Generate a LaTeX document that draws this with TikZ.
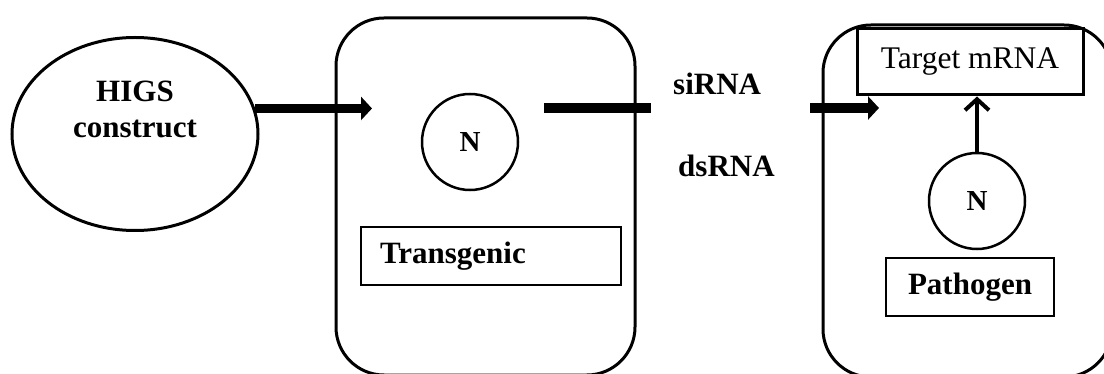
\documentclass[tikz,border=0pt]{standalone}
\usepackage{fontspec}
\setmainfont{Liberation Serif}
\usetikzlibrary{shapes.geometric,arrows.meta}

\tikzset{
  big/.style={font=\fontsize{31.5}{36}\selectfont},
  bigbf/.style={font=\fontsize{31}{36}\selectfont\bfseries},
  nucfont/.style={font=\fontsize{29}{32}\selectfont\bfseries},
  cell/.style={draw, line width=3pt, rounded corners=48pt, inner sep=0pt},
  nucleus/.style={draw, circle, line width=2.5pt, minimum size=96pt, inner sep=0pt, nucfont},
  fat/.style={line width=9.5pt},
  fatarrow/.style={line width=9.5pt, -{Triangle[length=11pt,width=23pt]}},
  uparrow/.style={line width=4pt, -{Straight Barb[length=11pt,width=24pt]}},
}

\begin{document}
\begin{tikzpicture}[x=1pt,y=-1pt]
\useasboundingbox (0,0) rectangle (1104,374);

% construct
\node[draw, ellipse, line width=3pt, minimum width=246pt, minimum height=193pt, inner sep=0pt] (ell) at (135,134) {};
\node[bigbf, align=center, anchor=base] (higs) at (135,138) {HIGS\\construct};

% transgenic cell
\node[cell, minimum width=299pt, minimum height=357pt] (cellA) at (485.5,196.5) {};
\node[nucleus] (nA) at (470,142) {N};
\node[draw, line width=1.2pt, bigbf, text width=222pt, align=left, inner xsep=19pt, minimum height=58pt, inner ysep=0pt] (trans) at (491,256) {Transgenic};

% pathogen cell
\node[cell, minimum width=289pt, minimum height=352pt] (cellB) at (967.5,201) {};
\node[draw, fill=white, line width=3pt, big, minimum width=226pt, minimum height=66pt, inner sep=0pt] (tgt) at (970,62) {Target mRNA};
\node[nucleus] (nB) at (977,201) {N};
\node[draw, line width=1.5pt, bigbf, minimum width=168pt, minimum height=58pt, inner sep=0pt] (path) at (970,287) {Pathogen};

% RNA labels
\node[bigbf, anchor=base west, inner sep=0pt] (si) at (673,95) {siRNA};
\node[bigbf, anchor=base west, inner sep=0pt] (ds) at (678,177) {dsRNA};

% connectors
\coordinate (tipA) at (372,108);
\coordinate (outA) at (544,108);
\coordinate (outB) at (651,108);
\coordinate (inB) at (810,108);
\coordinate (tipB) at (879,108);

\draw[fatarrow] (ell.12.3) -- (ell.12.3 -| tipA);
\draw[fat] (outA) -- (outB);
\draw[fatarrow] (inB) -- (tipB);
\draw[uparrow] (nB.north) -- (nB.north |- tgt.south);
\end{tikzpicture}
\end{document}
